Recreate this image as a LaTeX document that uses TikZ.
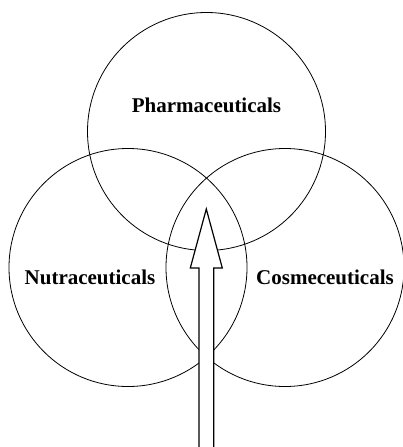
\documentclass[tikz,border=0pt]{standalone}
\usepackage{fontspec}
\setmainfont{Liberation Serif}
\usepackage{tikz}
\usetikzlibrary{positioning,calc}

\begin{document}
\begin{tikzpicture}[
    x=1pt, y=-1pt,
    field/.style={circle, draw, line width=0.8pt, minimum size=238pt, inner sep=0pt},
    tag/.style={font=\bfseries\fontsize{21}{25}\selectfont, inner sep=0pt},
    bigarrow/.style={draw, line width=1.2pt, fill=white, line join=miter}
]
    \useasboundingbox (0,0) rectangle (403,447);

    \node[field] (pharma) at (206.5,131.5) {};
    \node[field] (nutra) at (128,267.5) {};
    \node[field] (cosme) at (285,267.5) {};

    \node[tag] (pharmalabel) at (206.5,105) {Pharmaceuticals};
    \node[tag] (nutralabel) at (90,277) {Nutraceuticals};
    \node[tag] (cosmelabel) at (325,277) {Cosmeceuticals};

    % hollow arrow pointing into the centre
    \coordinate (tip) at (206.3,209);
    \coordinate (foot) at (206.3,450);
    \draw[bigarrow] (tip) -- ($(tip)+(16,59)$) -- ($(tip)+(7.4,59)$)
        -- ($(foot)+(7.4,0)$) -- ($(foot)+(-7.4,0)$)
        -- ($(tip)+(-7.4,59)$) -- ($(tip)+(-16,59)$) -- cycle;
\end{tikzpicture}
\end{document}
